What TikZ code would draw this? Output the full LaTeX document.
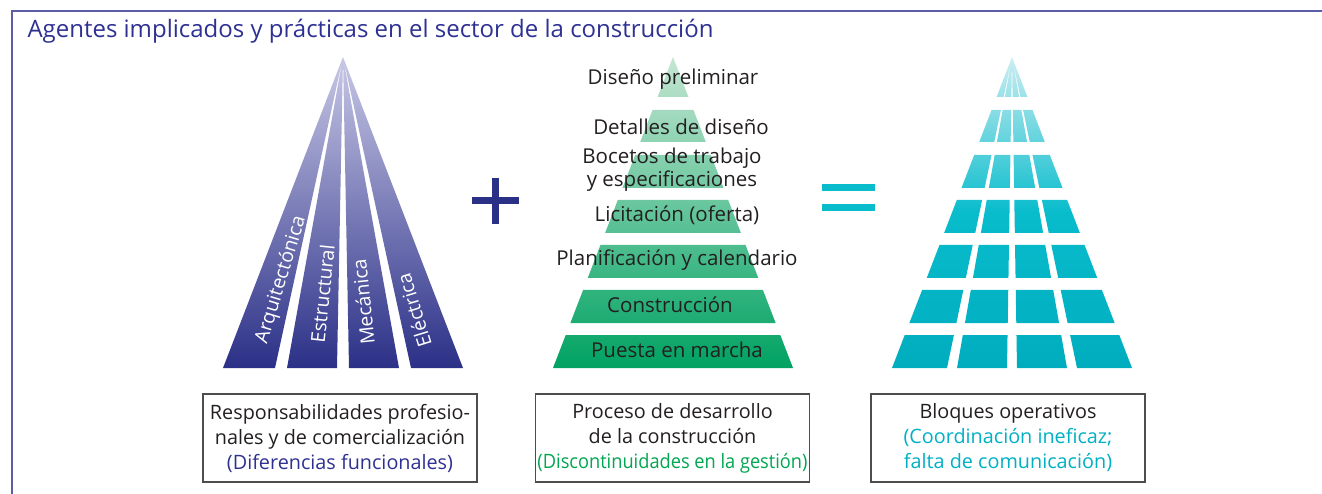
\documentclass[tikz,border=0pt]{standalone}
\usepackage{fontspec}
\setmainfont{Open Sans}
\usetikzlibrary{shapes.geometric, arrows}
\definecolor{framecol}{HTML}{5B5EA6}
\definecolor{titleblue}{HTML}{2E3192}
\definecolor{darkblue}{HTML}{2B3087}
\definecolor{paleblue}{HTML}{C8C8E6}
\definecolor{darkgreen}{HTML}{00A262}
\definecolor{palegreen}{HTML}{C5E6D2}
\definecolor{textgreen}{HTML}{00A651}
\definecolor{darkteal}{HTML}{00ADBF}
\definecolor{midteal}{HTML}{08BCCC}
\definecolor{paleteal}{HTML}{CDEEF2}
\definecolor{textteal}{HTML}{00B0C4}
\definecolor{labelgray}{HTML}{231F20}
\definecolor{boxgray}{HTML}{4D4D4D}
\tikzstyle{level} = [text=labelgray, align=center, font=\fontsize{20.5}{23}\selectfont]
\tikzstyle{box} = [rectangle, minimum width=274pt, minimum height=88pt, inner sep=2pt, text centered, align=center, draw=boxgray, line width=1.5pt, text=labelgray, font=\fontsize{19.8}{25}\selectfont]
\tikzstyle{strip} = [anchor=west, text=white, font=\fontsize{19.5}{22}\selectfont]

\begin{document}
\begin{tikzpicture}[x=1pt, y=-1pt, node distance=45pt]
   \useasboundingbox (0,0) rectangle (1322,494);
   \draw[framecol, line width=2pt] (12,494) -- (12,11) -- (1322,11);
   \node (title) [anchor=west, text=titleblue, font=\fontsize{24}{26}\selectfont] at (24,31) {Agentes implicados y prácticas en el sector de la construcción};
   % especialidades
   \shade[top color=paleblue, bottom color=darkblue]
      \foreach \lo/\hi in {-120/-68, -56/-6, 6/56, 68/120} {(343,57) -- ({343+(\lo)},368) -- ({343+(\hi)},368) -- cycle};
   \foreach \txt/\x/\y/\ang [count=\i] in {Arquitectónica/261/346/73, Estructural/317/346/84, Mecánica/368/348/96, Eléctrica/426/350/107}
      \node (esp\i) [strip, rotate=\ang] at (\x,\y) {\txt};
   \draw[darkblue, line width=7pt] (472,201) -- (519,201) (495.5,178) -- (495.5,224);
   % proceso
   \shade[top color=palegreen, bottom color=darkgreen]
      \foreach \yt/\yb in {57/97, 110/142, 155/188, 200/233, 245/278, 290/323, 335/368}
      {({673-0.3859*(\yt-57)},\yt) -- ({673+0.3859*(\yt-57)},\yt) -- ({673+0.3859*(\yb-57)},\yb) -- ({673-0.3859*(\yb-57)},\yb) -- cycle};
   \node (dp) [level] at (673,79) {Diseño preliminar};
   \node (dd) [level, below of=dp, xshift=8pt, yshift=-3pt] {Detalles de diseño};
   \node (bt) [level, below of=dd, xshift=-9pt, yshift=2pt] {Bocetos de trabajo\\y especificaciones};
   \node (lic) [level, below of=bt, xshift=5pt] {Licitación (oferta)};
   \node (plan) [level, below of=lic] {Planificación y calendario};
   \node (cons) [level, below of=plan, xshift=-7pt] {Construcción};
   \node (pm) [level, below of=cons, xshift=7pt] {Puesta en marcha};
   \draw[midteal, line width=7pt] (822,187.5) -- (875,187.5) (822,207.5) -- (875,207.5);
   % bloques
   \shade[top color=paleteal, bottom color=darkteal, middle color=midteal]
      \foreach \yt/\yb in {57/97, 110/142, 155/188, 200/233, 245/278, 290/323, 335/368}
      {\foreach \lo/\hi in {-120/-65, -55/-5, 5/55, 65/120}
         {({1012+(\lo)/311*(\yt-57)},\yt) -- ({1012+(\hi)/311*(\yt-57)},\yt) -- ({1012+(\hi)/311*(\yb-57)},\yb) -- ({1012+(\lo)/311*(\yb-57)},\yb) -- cycle}};
   \node (resp) [box] at (340,438) {Responsabilidades profesio-\\nales y de comercialización\\\textcolor{titleblue}{(Diferencias funcionales)}};
   \node (proc) [box] at (672.5,438) {Proceso de desarrollo\\de la construcción\\\textcolor{textgreen}{\addfontfeature{FakeStretch=0.92}(Discontinuidades en la gestión)}};
   \node (bloq) [box] at (1008,438) {Bloques operativos\\\textcolor{textteal}{(Coordinación ineficaz;}\\\textcolor{textteal}{falta de comunicación)}};
\end{tikzpicture}
\end{document}
